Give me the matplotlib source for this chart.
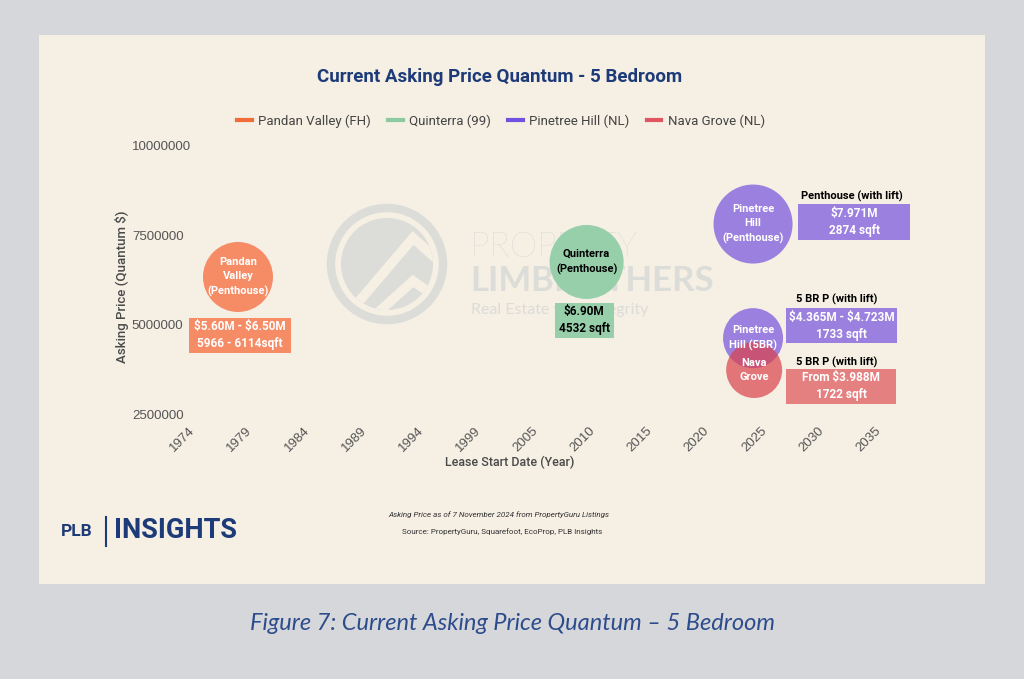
import matplotlib
matplotlib.use("Agg")
import matplotlib.pyplot as plt
from matplotlib.patches import Rectangle, Circle
from matplotlib.lines import Line2D
import numpy as np

# ---- data ----
projects = ["Pandan Valley (FH)", "Quinterra (99)", "Pinetree Hill (NL)", "Nava Grove (NL)"]
bubble_names = ["Pandan\nValley\n(Penthouse)", "Quinterra\n(Penthouse)",
                "Pinetree\nHill\n(Penthouse)", "Pinetree\nHill (5BR)", "Nava\nGrove"]
bubble_project = [0, 1, 2, 2, 3]
lease_year = [1978.0, 2009.0, 2023.8, 2023.8, 2023.9]
price = [6330000, 6750000, 7810000, 4620000, 3730000]
bubble_r = [35, 37, 39.5, 30, 28]   # radius in pixels
box_title = ["", "", "Penthouse (with lift)", "5 BR P (with lift)", "5 BR P (with lift)"]
box_text = ["\\$5.60M - \\$6.50M\n5966 - 6114sqft", "\\$6.90M\n4532 sqft", "\\$7.971M\n2874 sqft",
            "\\$4.365M - \\$4.723M\n1733 sqft", "From \\$3.988M\n1722 sqft"]
x_ticklabels = ["1974", "1979", "1984", "1989", "1994", "1999", "2005",
                "2010", "2015", "2020", "2025", "2030", "2035"]
y_ticks = [2500000, 5000000, 7500000, 10000000]

# ---- styles ----
legend_col = ["#f26c3a", "#8ccaa2", "#7152e0", "#e0565f"]
bubble_col = ["#f68c66", "#97cfab", "#9b80e0", "#9b80e0", "#db414b"]
bubble_alpha = [1, 1, 1, 1, 0.7]
bubble_z = [2, 2, 2, 2, 3]
name_z = [4, 4, 4, 3.5, 4]
name_col = ["white", "black", "white", "white", "white"]
box_col = ["#f68c66", "#97cfab", "#9b80e0", "#9b80e0", "#e58080"]
box_txt_col = ["white", "black", "white", "white", "white"]
# box centre offset from bubble centre (px), size (px), title offset
box_off = [(2, 58.5), (-2.5, 58.5), (101, -2), (88.5, -12.5), (87, 16.5)]
box_size = [(102, 35), (59, 35), (112, 36), (111, 35), (110, 35)]
title_off = [None, None, (99, -28), (84, -39), (83, -8)]

navy = "#1d3b78"
rob = ["Roboto", "DejaVu Sans"]
plt.rcParams['font.family'] = ["Liberation Sans", "DejaVu Sans"]

W, H = 1024, 679
fig = plt.figure(figsize=(W/100, H/100), dpi=100, facecolor="#d5d7da")

# pixel overlay for the card and decorations
pix = fig.add_axes([0, 0, 1, 1], zorder=0)
pix.set_xlim(0, W)
pix.set_ylim(H, 0)
pix.axis('off')
pix.add_patch(Rectangle((39, 35), 946, 549, facecolor="#f5efe4", edgecolor="none"))

# watermark
wm = "#dcdcd8"
pix.add_patch(Circle((387, 264), 56, facecolor="none", edgecolor=wm, lw=6))
inner = Circle((387, 264), 46, facecolor=wm, edgecolor="none")
pix.add_patch(inner)
for pts in ([(350, 312), (413, 238), (440, 262)], [(372, 318), (413, 281), (440, 300)]):
    xs, ys = zip(*pts)
    ln, = pix.plot(xs, ys, color="#f5efe4", lw=7, solid_capstyle='butt', solid_joinstyle='miter')
    ln.set_clip_path(inner)
pix.text(470, 247, "PROPERTY", color="#d2d2cf", fontsize=25, family=["Lato", "DejaVu Sans"],
         fontweight='light', va='center', ha='left')
pix.text(470, 281, "LIMBROTHERS", color=wm, fontsize=25, family=["Lato", "DejaVu Sans"],
         fontweight='bold', va='center', ha='left')
pix.text(471, 310, "Real Estate with Integrity", color=wm, fontsize=11.5,
         family=["Lato", "DejaVu Sans"], va='center', ha='left')

# title, legend
pix.text(500, 77, "Current Asking Price Quantum - 5 Bedroom", color=navy, fontsize=13.5,
         fontweight='bold', family=rob, ha='center', va='center')
handles = [Line2D([0], [0], color=c, lw=3) for c in legend_col]
fig.legend(handles, projects, loc='center', bbox_to_anchor=(501/W, 1-121/H), ncol=4,
           frameon=False, handlelength=1.1, handletextpad=0.5, columnspacing=1.3,
           prop={'family': rob, 'size': 9.5}, labelcolor="#444444")

# main axes
ax = fig.add_axes([193/W, 1-414/H, 686/W, 268.3/H], zorder=1)
ax.set_facecolor("none")
for s in ax.spines.values():
    s.set_visible(False)
ax.set_xlim(1974, 2035)
ax.set_ylim(2500000, 10000000)
ax.set_xticks(np.linspace(1974, 2035, len(x_ticklabels)))
ax.set_xticklabels(x_ticklabels, rotation=45, ha='right', va='center', rotation_mode='anchor')
ax.set_yticks(y_ticks)
ax.set_yticklabels([str(v) for v in y_ticks], ha='left')
ax.tick_params(axis='x', length=0, pad=11, labelsize=9.5, labelcolor="#555555")
ax.tick_params(axis='y', length=0, pad=44, labelsize=9.5, labelcolor="#555555")

for i in range(len(price)):
    ax.scatter([lease_year[i]], [price[i]], s=[(2*bubble_r[i]*0.72)**2], color=bubble_col[i],
               alpha=bubble_alpha[i], edgecolors='none', zorder=bubble_z[i], clip_on=False)
    ax.text(lease_year[i], price[i], bubble_names[i], ha='center', va='center',
            color=name_col[i], fontsize=8, fontweight='bold', linespacing=1.5,
            zorder=name_z[i], family=rob)

# annotation boxes, placed in pixels relative to each bubble
to_pix = pix.transData.inverted()
for i in range(len(price)):
    bx, by = to_pix.transform(ax.transData.transform((lease_year[i], price[i])))
    cx, cy = bx + box_off[i][0], by + box_off[i][1]
    w, h = box_size[i]
    ax.add_patch(Rectangle((cx - w/2, cy - h/2), w, h, facecolor=box_col[i], edgecolor='none',
                           transform=pix.transData, clip_on=False, zorder=4))
    ax.text(cx, cy, box_text[i], transform=pix.transData, ha='center', va='center',
            color=box_txt_col[i], fontsize=8.5, fontweight='bold', linespacing=1.4,
            family=rob, zorder=5)
    if title_off[i] is not None:
        ax.text(bx + title_off[i][0], by + title_off[i][1], box_title[i], transform=pix.transData,
                ha='center', va='center', color="black", fontsize=8, fontweight='bold',
                family=rob, zorder=5)

# axis titles
pix.text(510, 462, "Lease Start Date (Year)", ha='center', va='center', fontsize=9,
         fontweight='medium', family=rob, color="#4a4a4a")
pix.text(122, 287, "Asking Price (Quantum \\$)", ha='center', va='center', rotation=90,
         fontsize=9.5, fontweight='medium', family=rob, color="#4a4a4a")

# footer notes
pix.text(499, 515, "Asking Price as of 7 November 2024 from PropertyGuru Listings", ha='center',
         va='center', fontsize=5.8, style='italic', family=rob, color="#333333")
pix.text(502, 532, "Source: PropertyGuru, Squarefoot, EcoProp, PLB Insights", ha='center',
         va='center', fontsize=5.8, family=rob, color="#333333")

# PLB INSIGHTS logo
pix.text(61, 532, "PLB", ha='left', va='center', fontsize=12.5, fontweight='bold',
         color=navy, family=rob)
pix.plot([106, 106], [517, 546], color=navy, lw=1.5)
pix.text(114, 531, "INSIGHTS", ha='left', va='center', fontsize=19.5, fontweight='bold',
         color=navy, family=rob)

# caption
pix.text(512, 623, "Figure 7: Current Asking Price Quantum \u2013 5 Bedroom", ha='center',
         va='center', fontsize=17, style='italic', color="#2d4c8c",
         family=["Lato", "DejaVu Sans"])

fig.savefig("out.png", dpi=100, facecolor=fig.get_facecolor())
